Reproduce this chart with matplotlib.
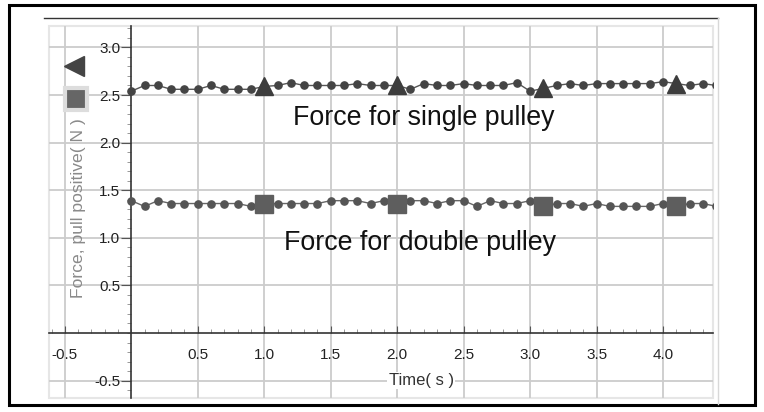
import numpy as np
import matplotlib
matplotlib.use('Agg')
from matplotlib import pyplot as plt
from matplotlib.lines import Line2D
from matplotlib.patches import Rectangle
from matplotlib.ticker import MultipleLocator, FixedLocator

plt.rcParams['font.family'] = ['Liberation Sans', 'DejaVu Sans']
plt.rcParams['axes.unicode_minus'] = False

# sample times (s), one reading every 0.1 s
time = np.arange(45) * 0.1

# force readings (N)
single = [2.54, 2.60, 2.60, 2.56, 2.56, 2.56, 2.60, 2.56, 2.56, 2.56,
          2.59, 2.60, 2.63, 2.60, 2.60, 2.60, 2.60, 2.62, 2.60, 2.60,
          2.60, 2.56, 2.62, 2.60, 2.60, 2.62, 2.60, 2.60, 2.60, 2.63,
          2.54, 2.57, 2.60, 2.62, 2.60, 2.62, 2.62, 2.62, 2.62, 2.62,
          2.64, 2.62, 2.60, 2.62, 2.60]
double = [1.39, 1.33, 1.39, 1.36, 1.36, 1.36, 1.36, 1.36, 1.36, 1.33,
          1.36, 1.36, 1.36, 1.36, 1.36, 1.39, 1.39, 1.39, 1.36, 1.39,
          1.36, 1.39, 1.39, 1.36, 1.39, 1.39, 1.33, 1.39, 1.36, 1.36,
          1.39, 1.33, 1.36, 1.36, 1.33, 1.36, 1.33, 1.33, 1.33, 1.33,
          1.36, 1.33, 1.36, 1.36, 1.33]
# points that carry the big series markers
big_idx = [10, 20, 31, 41]

xticks = [-0.5, 0.5, 1.0, 1.5, 2.0, 2.5, 3.0, 3.5, 4.0]
yticks = [-0.5, 0.5, 1.0, 1.5, 2.0, 2.5, 3.0]
label_single = 'Force for single pulley'
label_double = 'Force for double pulley'

fig = plt.figure(figsize=(7.64, 4.12), dpi=100)
W, H = 764, 412
ax = fig.add_axes([49 / W, 1 - 398 / H, 664 / W, 372 / H])

ax.set_xlim(-0.619, 4.376)
ax.set_ylim(-0.683, 3.225)

# grid
ax.xaxis.set_major_locator(FixedLocator(xticks))
ax.yaxis.set_major_locator(FixedLocator(yticks))
ax.xaxis.set_minor_locator(MultipleLocator(0.1))
ax.yaxis.set_minor_locator(MultipleLocator(0.1))
ax.grid(True, which='major', color='#cccccc', lw=1.3, zorder=0)
ax.set_axisbelow(True)

# axes through the origin
for s in ['top', 'right']:
    ax.spines[s].set_visible(False)
ax.spines['left'].set_position(('data', 0))
ax.spines['bottom'].set_position(('data', 0))
ax.spines['left'].set_color('#333333')
ax.spines['bottom'].set_color('#333333')
ax.spines['left'].set_linewidth(1.2)
ax.spines['bottom'].set_linewidth(1.2)
ax.add_patch(Rectangle((0, 0), 1, 1, transform=ax.transAxes, fill=False,
                       ec='#e6e6e6', lw=1.5, clip_on=False, zorder=0))

ax.tick_params(axis='x', which='major', direction='in', length=5, pad=11,
               labelsize=11, labelcolor='#222222', color='#555555')
ax.tick_params(axis='x', which='minor', direction='in', length=3, color='#888888')
ax.tick_params(axis='y', which='major', direction='out', length=7, pad=1,
               labelsize=11, labelcolor='#222222', color='#555555')
ax.tick_params(axis='y', which='minor', direction='out', length=3, color='#888888')
ax.set_xticklabels(['%.1f' % v for v in xticks])
ax.set_yticklabels(['%.1f' % v for v in yticks])

# series
ax.plot(time, single, '-o', color='#555555', lw=1, ms=5.2,
        mfc='#444444', mec='#444444', zorder=3)
ax.plot(time, double, '-o', color='#666666', lw=1, ms=5.2,
        mfc='#555555', mec='#555555', zorder=3)
ax.plot(time, single, ls='none', marker='^', ms=13, color='#3d3d3d',
        markevery=big_idx, zorder=4)
ax.plot(time, double, ls='none', marker='s', ms=13, color='#5e5e5e',
        markevery=big_idx, zorder=4)

ax.text(2.2, 2.26, label_single, fontsize=19.3, ha='center', va='center',
        color='#111111')
ax.text(2.175, 0.95, label_double, fontsize=19.3, ha='center', va='center',
        color='#111111')

# axis titles
fig.text(78 / W, 1 - 208 / H, 'Force, pull positive( N )', rotation=90,
         ha='center', va='center', fontsize=12.6, color='#8a8a8a')
ax.text(2.18, -0.5, 'Time( s )', ha='center', va='center', fontsize=12,
        color='#333333', bbox=dict(fc='white', ec='none', pad=1))

# legend markers in the corner
h1 = Line2D([], [], ls='none', marker='<', ms=15, color='#444444')
h2 = Line2D([], [], ls='none', marker='s', ms=16, mfc='#666666',
            mec='#dddddd', mew=3)
leg1 = ax.legend([h1], [''], loc='center', bbox_to_anchor=(0.0377, 0.890),
                 frameon=False, borderpad=0, handletextpad=0, handlelength=1,
                 borderaxespad=0)
ax.add_artist(leg1)
ax.legend([h2], [''], loc='center', bbox_to_anchor=(0.0414, 0.8024),
          frameon=False, borderpad=0, handletextpad=0, handlelength=1,
          borderaxespad=0)

# panel and outer frame
fig.add_artist(Line2D([44 / W, 718 / W], [1 - 18 / H, 1 - 18 / H],
                      color='#333333', lw=1))
fig.add_artist(Line2D([718 / W, 718 / W], [1 - 18 / H, 1 - 404 / H],
                      color='#d8d8d8', lw=1))
fig.add_artist(Rectangle((9 / W, 1 - 405 / H), 746 / W, 400 / H,
                         transform=fig.transFigure, fill=False,
                         ec='black', lw=2.2))

fig.savefig('out.png', dpi=100)
